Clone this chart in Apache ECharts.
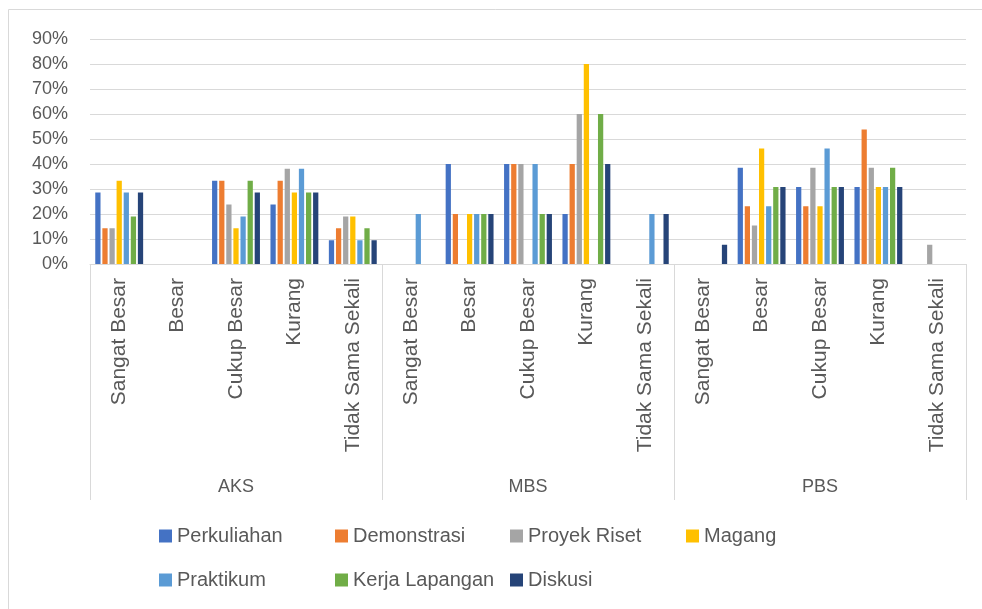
<!DOCTYPE html>
<html>
<head>
<meta charset="utf-8">
<script src="https://cdn.jsdelivr.net/npm/echarts@6/dist/echarts.min.js"></script>
<style>
  html, body { margin: 0; padding: 0; background: #fff; }
  #chart { width: 982px; height: 609px; }
</style>
</head>
<body>
<div id="chart"></div>
<script>
// kategori penilaian (diulang per kelompok)
const levels = ['Sangat Besar', 'Besar', 'Cukup Besar', 'Kurang', 'Tidak Sama Sekali']
const groups = ['AKS', 'MBS', 'PBS']
const categories = groups.flatMap(() => levels)

// nilai dalam persen, urutan: AKS (5), MBS (5), PBS (5)
const perkuliahan   = [28.6, 0, 33.3, 23.8, 9.5,   0, 40, 40, 20, 0,   0, 38.5, 30.8, 30.8, 0]
const demonstrasi   = [14.3, 0, 33.3, 33.3, 14.3,  0, 20, 40, 40, 0,   0, 23.1, 23.1, 53.8, 0]
const proyekRiset   = [14.3, 0, 23.8, 38.1, 19.0,  0, 0, 40, 60, 0,    0, 15.4, 38.5, 38.5, 7.7]
const magang        = [33.3, 0, 14.3, 28.6, 19.0,  0, 20, 0, 80, 0,    0, 46.2, 23.1, 30.8, 0]
const praktikum     = [28.6, 0, 19.0, 38.1, 9.5,   20, 20, 40, 0, 20,  0, 23.1, 46.2, 30.8, 0]
const kerjaLapangan = [19.0, 0, 33.3, 28.6, 14.3,  0, 20, 20, 60, 0,   0, 30.8, 30.8, 38.5, 0]
const diskusi       = [28.6, 0, 28.6, 28.6, 9.5,   0, 20, 20, 40, 20,  7.7, 30.8, 30.8, 30.8, 0]

const seriesNames = ['Perkuliahan', 'Demonstrasi', 'Proyek Riset', 'Magang', 'Praktikum', 'Kerja Lapangan', 'Diskusi']
const seriesData = [perkuliahan, demonstrasi, proyekRiset, magang, praktikum, kerjaLapangan, diskusi]
const colors = ['#4472C4', '#ED7D31', '#A5A5A5', '#FFC000', '#5B9BD5', '#70AD47', '#264478']

const FONT = 'Liberation Sans'
const TEXT = '#595959'
const LINE = '#d9d9d9'

const chart = echarts.init(document.getElementById('chart'))

// legenda dalam kolom tetap, 4 per baris
const legendCols = [159, 335, 510, 686]
const legendRows = [526, 570]
const legends = seriesNames.map((name, i) => ({
  data: [name],
  icon: 'rect',
  itemWidth: 13,
  itemHeight: 13,
  padding: 0,
  left: legendCols[i % 4],
  top: legendRows[Math.floor(i / 4)],
  textStyle: { fontFamily: FONT, fontSize: 20, color: TEXT }
}))

chart.setOption({
  animation: false,
  color: colors,
  grid: { left: 90, right: 16, top: 39, bottom: 345 },
  legend: legends,
  xAxis: [
    {
      type: 'category',
      data: categories,
      axisLine: { lineStyle: { color: LINE, width: 1 } },
      axisTick: { show: false },
      axisLabel: {
        interval: 0, rotate: 90, margin: 14,
        fontFamily: FONT, fontSize: 21, color: TEXT
      }
    },
    {
      type: 'category',
      data: groups,
      position: 'bottom',
      axisLine: { show: false },
      axisTick: { show: true, length: 236, interval: 0, lineStyle: { color: LINE, width: 1 } },
      axisLabel: { margin: 214, fontFamily: FONT, fontSize: 18, color: TEXT }
    }
  ],
  yAxis: {
    type: 'value',
    min: 0,
    max: 90,
    interval: 10,
    axisLine: { show: false },
    axisTick: { show: false },
    splitLine: { lineStyle: { color: LINE, width: 1 } },
    axisLabel: { formatter: '{value}%', margin: 22, fontFamily: FONT, fontSize: 18, color: TEXT }
  },
  graphic: [
    // bingkai area grafik (kiri dan atas)
    { type: 'line', shape: { x1: 8.5, y1: 9.5, x2: 8.5, y2: 609 }, style: { stroke: LINE, lineWidth: 1 } },
    { type: 'line', shape: { x1: 8.5, y1: 9.5, x2: 982, y2: 9.5 }, style: { stroke: LINE, lineWidth: 1 } }
  ],
  series: seriesNames.map((name, i) => ({
    name,
    type: 'bar',
    data: seriesData[i],
    barGap: '35%',
    barCategoryGap: '18%'
  }))
})
</script>
</body>
</html>
